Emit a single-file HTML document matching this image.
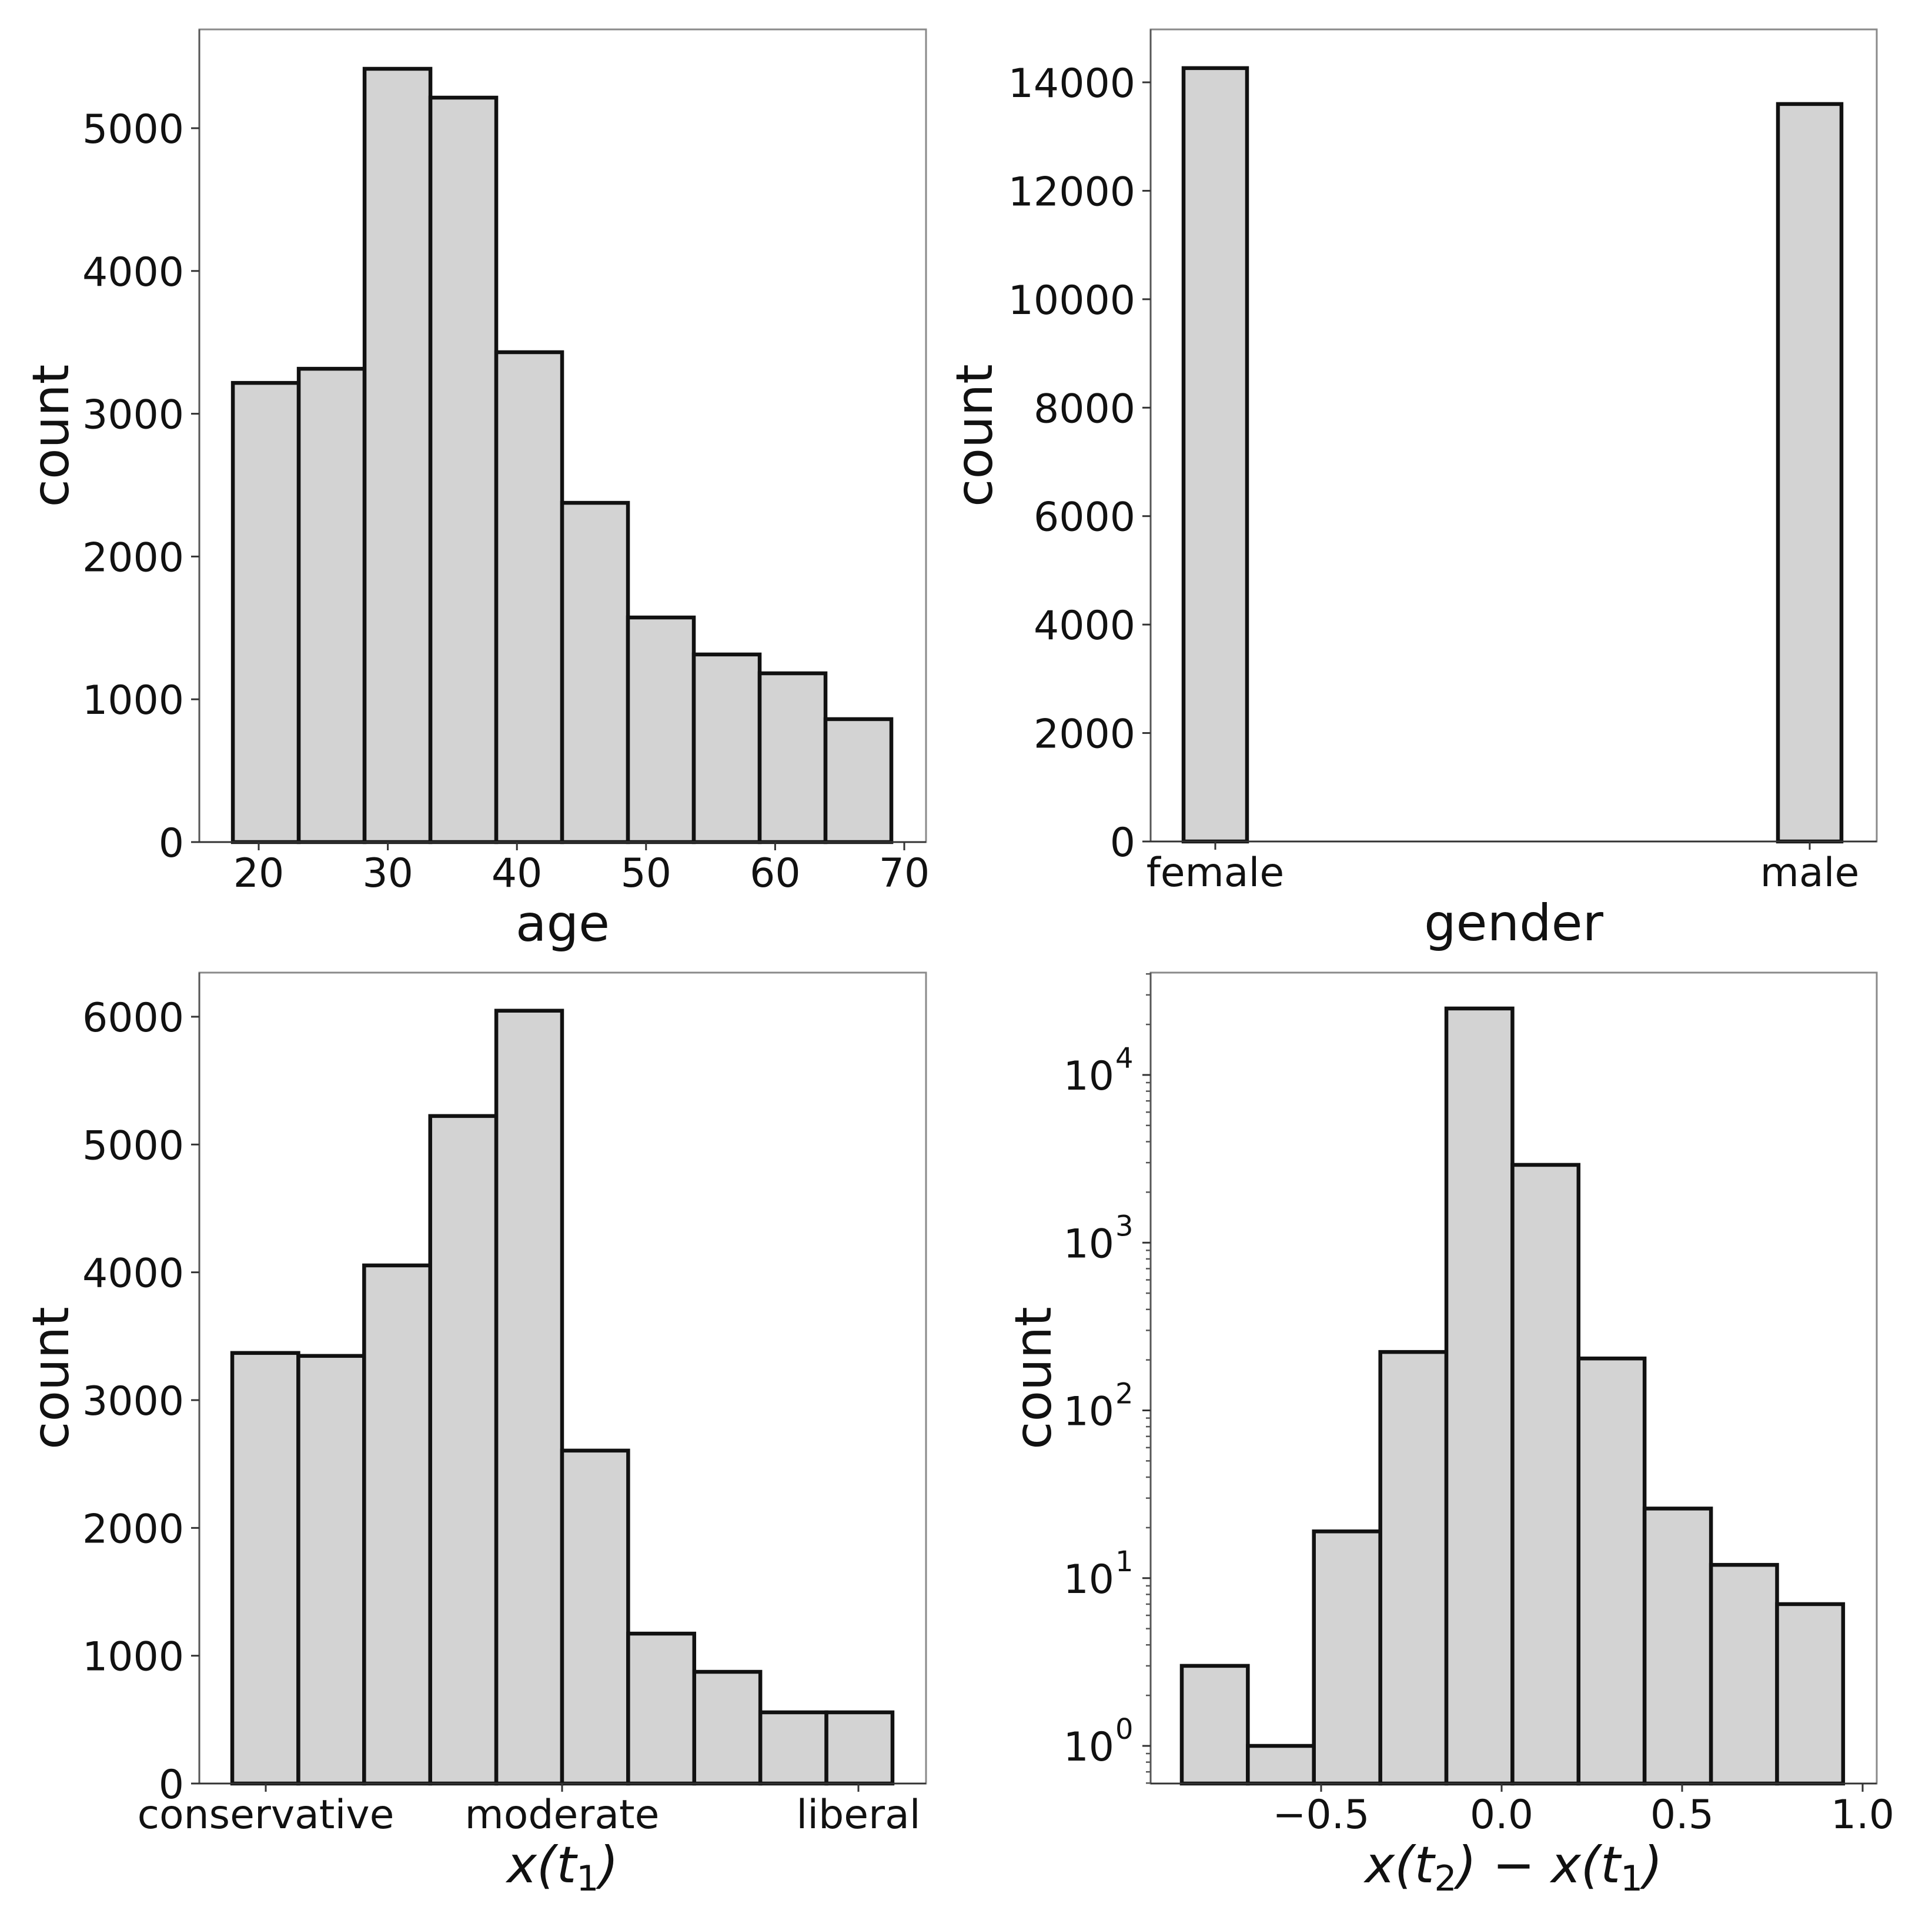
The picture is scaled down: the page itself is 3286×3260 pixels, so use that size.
<!DOCTYPE html>
<html><head><meta charset="utf-8"><style>
html,body{margin:0;padding:0;background:#fff;}
svg{display:block;}
text{font-family:"DejaVu Sans","Liberation Sans",sans-serif;fill:#111;}
</style></head><body>
<svg id="fig" width="3286" height="3260" viewBox="0 0 3286 3260" xmlns="http://www.w3.org/2000/svg"></svg>
<script>
// ---- data ----
const ageEdges = [18, 23.1, 28.2, 33.3, 38.4, 43.5, 48.6, 53.7, 58.8, 63.9, 69];
const ageCounts = [3216, 3315, 5416, 5214, 3431, 2376, 1573, 1314, 1182, 861];
const ageTicks = [20, 30, 40, 50, 60, 70];
const ageYTicks = [0, 1000, 2000, 3000, 4000, 5000];

const genderCategories = ["female", "male"];
const genderCounts = [14262, 13600];
const genderYTicks = [0, 2000, 4000, 6000, 8000, 10000, 12000, 14000];

const ideologyEdges = [-1.113, -0.890, -0.668, -0.445, -0.222, 0.0, 0.223, 0.446, 0.669, 0.892, 1.115];
const ideologyCounts = [3369, 3346, 4054, 5223, 6047, 2605, 1173, 874, 557, 557];
const ideologyTickLabels = ["conservative", "moderate", "liberal"];
const ideologyTickValues = [-1, 0, 1];
const ideologyYTicks = [0, 1000, 2000, 3000, 4000, 5000, 6000];

const changeEdges = [-0.886, -0.703, -0.520, -0.336, -0.153, 0.030, 0.213, 0.396, 0.580, 0.763, 0.946];
const changeCounts = [3, 1, 19, 223, 24900, 2910, 204, 26, 12, 7];
const changeXTicks = [-0.5, 0.0, 0.5, 1.0];
const changeXTickLabels = ["\u22120.5", "0.0", "0.5", "1.0"];
const changeYExponents = [0, 1, 2, 3, 4];

// ---- drawing ----
const NS = "http://www.w3.org/2000/svg";
const svg = document.getElementById("fig");
function mk(tag, attrs, parent) {
  const e = document.createElementNS(NS, tag);
  for (const k in attrs) e.setAttribute(k, attrs[k]);
  (parent || svg).appendChild(e);
  return e;
}
function linScale(d0, d1, r0, r1) { return v => r0 + (v - d0) / (d1 - d0) * (r1 - r0); }

function panel(name, box, xs, ys, opts) {
  const g = mk("g", {});
  
  
  opts.bars.forEach((b, i) => {
    const x0 = xs(b[0]), x1 = xs(b[1]), y = ys(b[2]), yb = box.b;
    const r = mk("rect", {x: x0, y: y, width: x1 - x0, height: yb - y, fill: "#d3d3d3", stroke: "#111", "stroke-width": 6.5}, g);
    
    
  });
  const sp = mk("rect", {x: box.l, y: box.t, width: box.r - box.l, height: box.b - box.t, fill: "none", stroke: "#8a8a8a", "stroke-width": 3}, g);
  
  
  mk("line", {x1: box.l, y1: box.t, x2: box.l, y2: box.b, stroke: "#555", "stroke-width": 3}, g);
  mk("line", {x1: box.l, y1: box.b, x2: box.r, y2: box.b, stroke: "#333", "stroke-width": 3}, g);
  const xt = mk("g", {}, g);
  
  
  opts.xticks.forEach((v, i) => {
    const x = xs(v);
    mk("line", {x1: x, y1: box.b, x2: x, y2: box.b + 14, stroke: "#333", "stroke-width": 3}, xt);
    const t = mk("text", {x: x, y: box.b + 76, "text-anchor": "middle", "font-size": 68}, xt);
    t.textContent = opts.xlabels[i];
    
    
  });
  const yt = mk("g", {}, g);
  
  
  opts.yticks.forEach((v, i) => {
    const y = ys(v);
    mk("line", {x1: box.l - 14, y1: y, x2: box.l, y2: y, stroke: "#333", "stroke-width": 3}, yt);
    if (opts.logLabels) {
      const t = mk("text", {x: box.l - 62, y: y + 25, "text-anchor": "end", "font-size": 68}, yt);
      t.textContent = "10";
      
      
      const s = mk("text", {x: box.l - 60, y: y - 12, "text-anchor": "start", "font-size": 48}, yt);
      s.textContent = opts.logLabels[i];
      
      
    } else {
      const t = mk("text", {x: box.l - 26, y: y + 25, "text-anchor": "end", "font-size": 68}, yt);
      t.textContent = String(v);
      
      
    }
  });
  if (opts.minor) {
    opts.minor.forEach(v => {
      const y = ys(v);
      if (y < box.t || y > box.b) return;
      mk("line", {x1: box.l - 8, y1: y, x2: box.l, y2: y, stroke: "#555", "stroke-width": 2.5}, yt);
    });
  }
  const xl = mk("text", {x: (box.l + box.r) / 2, y: box.b + 168, "text-anchor": "middle", "font-size": 86, "font-style": opts.xItalic ? "italic" : "normal"}, g);
  
  
  if (opts.xTitleParts) {
    opts.xTitleParts.forEach(p => {
      const ts = mk("tspan", p.sub ? {"font-size": 60, dy: 14, "font-style": "normal"} : (p.after ? {dy: -14} : {}), xl);
      ts.textContent = p.t;
    });
  } else xl.textContent = opts.xTitle;
  const cy = (box.t + box.b) / 2;
  const yl = mk("text", {x: 0, y: 0, transform: "translate(" + opts.yTitleX + "," + cy + ") rotate(-90)", "text-anchor": "middle", "font-size": 86}, g);
  yl.textContent = "count";
  
  
}

(function () {
  const box = {l: 339, r: 1575, t: 50, b: 1432};
  const xs = linScale(20, 70, 440, 1538);
  const ys = linScale(0, 5000, 1432, 218);
  const bars = ageCounts.map((c, i) => [ageEdges[i], ageEdges[i + 1], c]);
  panel("age-histogram", box, xs, ys, {bars, xticks: ageTicks, xlabels: ageTicks.map(String), yticks: ageYTicks, xTitle: "age", yTitleX: 116});
})();

(function () {
  const box = {l: 1957, r: 3192, t: 50, b: 1431};
  const xs = linScale(0, 1, 2067, 3078);
  const ys = linScale(0, 14000, 1431, 140);
  const hw = 0.0534;
  const bars = genderCounts.map((c, i) => [i - hw, i + hw, c]);
  panel("gender-histogram", box, xs, ys, {bars, xticks: [0, 1], xlabels: genderCategories, yticks: genderYTicks, xTitle: "gender", yTitleX: 1687});
})();

(function () {
  const box = {l: 339, r: 1575, t: 1654, b: 3033};
  const xs = linScale(-1, 1, 452, 1460);
  const ys = linScale(0, 6000, 3033, 1729);
  const bars = ideologyCounts.map((c, i) => [ideologyEdges[i], ideologyEdges[i + 1], c]);
  panel("ideology-histogram", box, xs, ys, {bars, xticks: ideologyTickValues, xlabels: ideologyTickLabels, yticks: ideologyYTicks, xItalic: true,
    xTitleParts: [{t: "x(t"}, {t: "1", sub: true}, {t: ")", after: true}], yTitleX: 116});
})();

(function () {
  const box = {l: 1957, r: 3192, t: 1654, b: 3033};
  const xs = linScale(-0.5, 1.0, 2247, 3168);
  const lys = linScale(0, 4, 2969, 1828);
  const ys = v => lys(Math.log10(v));
  const bars = changeCounts.map((c, i) => [changeEdges[i], changeEdges[i + 1], c]);
  const minor = [];
  for (let e = -1; e <= 4; e++) for (let m = 2; m <= 9; m++) minor.push(m * Math.pow(10, e));
  panel("change-histogram", box, xs, ys, {bars, xticks: changeXTicks, xlabels: changeXTickLabels,
    yticks: changeYExponents.map(e => Math.pow(10, e)), logLabels: changeYExponents.map(String), minor, xItalic: true,
    xTitleParts: [{t: "x(t"}, {t: "2", sub: true}, {t: ") \u2212 x(t", after: true}, {t: "1", sub: true}, {t: ")", after: true}], yTitleX: 1787});
})();
</script>
</body></html>
